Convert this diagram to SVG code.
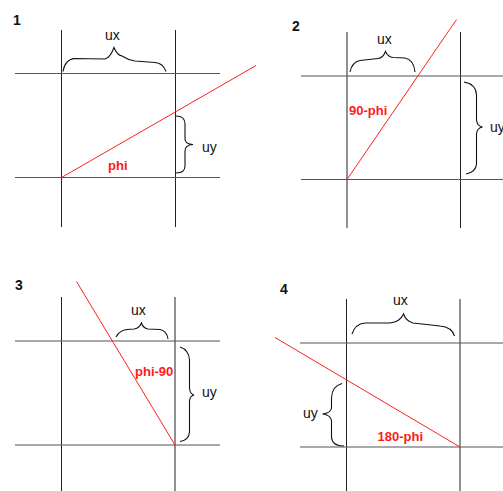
<svg xmlns="http://www.w3.org/2000/svg" width="503" height="491" viewBox="0 0 503 491">
<style>
.v{stroke:#222;stroke-width:1;fill:none}
.h{stroke:#555;stroke-width:1.2;fill:none}
.r{stroke:#ff2020;stroke-width:1;fill:none}
.b{stroke:#111;stroke-width:1.1;fill:none}
.t{font-family:"Liberation Sans",Arial,sans-serif;font-size:14px;fill:#111}
.n{font-family:"Liberation Sans",Arial,sans-serif;font-size:14px;font-weight:bold;fill:#111}
.rt{font-family:"Liberation Sans",Arial,sans-serif;font-size:13px;font-weight:bold;fill:#ff1a1a}
</style>
<rect width="503" height="491" fill="#fff"/>
<g id="panel1">
<text class="n" x="13" y="25">1</text>
<line class="v" x1="61.5" y1="30" x2="61.5" y2="227"/>
<line class="v" x1="175.5" y1="30" x2="175.5" y2="227"/>
<line class="h" x1="15" y1="73.5" x2="220" y2="73.5"/>
<line class="h" x1="15" y1="177.5" x2="220" y2="177.5"/>
<line class="r" x1="61.5" y1="177.5" x2="256" y2="65.5"/>
<path class="b" d="M63 71.5 Q65 59 75 58.5 L105 59 Q110 58 114 47.5 Q117 55 122 56 Q128 60 135 61 L155 62.5 Q163 63 166 71.5"/>
<text class="t" x="105" y="39.5">ux</text>
<path class="b" d="M176 116 Q185 116 185 124 L185 139 Q185 144 193 144.5 Q185 145 185 151 L185 166 Q185 173 176 173"/>
<text class="t" x="202" y="151.5">uy</text>
<text class="rt" x="108" y="170">phi</text>
</g>
<g id="panel2">
<text class="n" x="292" y="30.5">2</text>
<line class="v" x1="347" y1="32" x2="347" y2="228"/>
<line class="v" x1="460.5" y1="32" x2="460.5" y2="228"/>
<line class="h" x1="301" y1="76" x2="503" y2="76"/>
<line class="h" x1="301" y1="179.5" x2="503" y2="179.5"/>
<line class="r" x1="347" y1="179.5" x2="456.5" y2="19.5"/>
<path class="b" d="M350 72 Q352 62 360 60.5 L378 58.5 Q383 58 385.5 51.5 Q388 57 393 57.5 L405 58 Q414 60 415 72"/>
<text class="t" x="377" y="44">ux</text>
<path class="b" d="M464 82 Q476 84 476.5 95 L476.5 120 Q477 126 482.5 127 Q477 128 476.5 134 L476.5 164 Q476 172 466 174"/>
<text class="t" x="490" y="132">uy</text>
<text class="rt" x="349" y="114.5">90-phi</text>
</g>
<g id="panel3">
<text class="n" x="15" y="290">3</text>
<line class="v" x1="61.5" y1="297" x2="61.5" y2="491"/>
<line class="v" x1="175" y1="297" x2="175" y2="491"/>
<line class="h" x1="15" y1="341" x2="220" y2="341"/>
<line class="h" x1="15" y1="445" x2="220" y2="445"/>
<line class="r" x1="76.5" y1="281.5" x2="175" y2="445"/>
<path class="b" d="M116 337 Q120 330 127 329.5 L134 329 Q139 328.5 141.5 323 Q143 328 148 329 L160 329.5 Q167 331 168 339"/>
<text class="t" x="131" y="314.5">ux</text>
<path class="b" d="M180 347 Q189 350 189.5 360 L189.5 388 Q190 394 194 395 Q190 396 189.5 401 L189.5 432 Q189 440 180 441.5"/>
<text class="t" x="202" y="396.5">uy</text>
<text class="rt" x="135" y="376">phi-90</text>
</g>
<g id="panel4">
<text class="n" x="280" y="294">4</text>
<line class="v" x1="346.5" y1="299" x2="346.5" y2="491"/>
<line class="v" x1="460" y1="299" x2="460" y2="491"/>
<line class="h" x1="300" y1="343" x2="503" y2="343"/>
<line class="h" x1="300" y1="447" x2="503" y2="447"/>
<line class="r" x1="275" y1="337.5" x2="460" y2="447"/>
<path class="b" d="M352 334 Q355 324 365 323 L390 323 Q400 322 403.5 314 Q406 321 413 323 L440 326 Q452 327 454.5 336"/>
<text class="t" x="393" y="305">ux</text>
<path class="b" d="M342 383.5 Q332 386 331.5 398 L331.5 408 Q331 413 322.5 414 Q331 415 331.5 421 L331.5 437 Q332 446 344 446"/>
<text class="t" x="303" y="417.5">uy</text>
<text class="rt" x="377.5" y="440.5">180-phi</text>
</g>
</svg>
